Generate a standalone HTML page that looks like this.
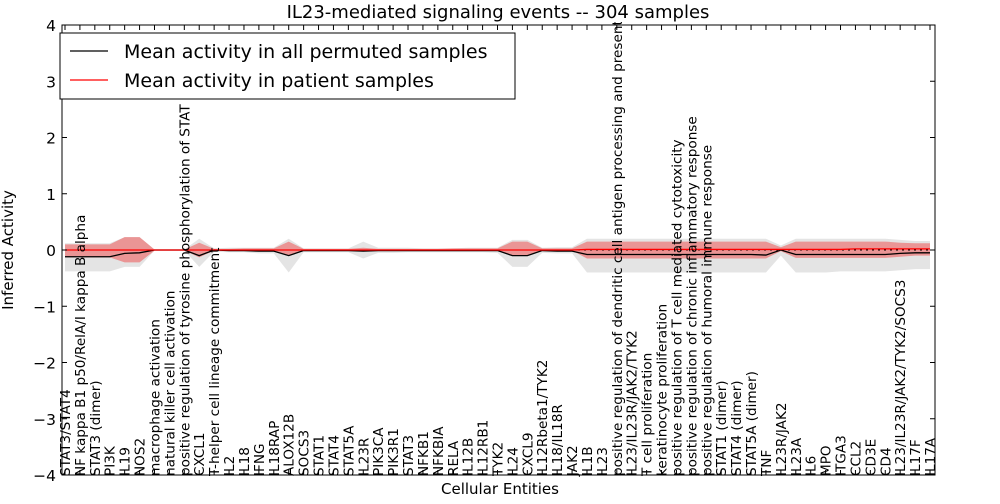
<!DOCTYPE html>
<html><head><meta charset="utf-8"><style>
body{margin:0;background:#fff;width:1000px;height:500px;overflow:hidden;font-family:"DejaVu Sans","Liberation Sans",sans-serif}
</style></head><body>
<svg id="chart" width="1000" height="500" xmlns="http://www.w3.org/2000/svg" font-family="DejaVu Sans, Liberation Sans, sans-serif"></svg>
<script>
const categories=["STAT3/STAT4","NF kappa B1 p50/RelA/I kappa B alpha","STAT3 (dimer)","PI3K","IL19","NOS2","macrophage activation","natural killer cell activation","positive regulation of tyrosine phosphorylation of STAT","CXCL1","T-helper cell lineage commitment","IL2","IL18","IFNG","IL18RAP","ALOX12B","SOCS3","STAT1","STAT4","STAT5A","IL23R","PIK3CA","PIK3R1","STAT3","NFKB1","NFKBIA","RELA","IL12B","IL12RB1","TYK2","IL24","CXCL9","IL12Rbeta1/TYK2","IL18/IL18R","JAK2","IL1B","IL23","positive regulation of dendritic cell antigen processing and presentation","IL23/IL23R/JAK2/TYK2","T cell proliferation","keratinocyte proliferation","positive regulation of T cell mediated cytotoxicity","positive regulation of chronic inflammatory response","positive regulation of humoral immune response","STAT1 (dimer)","STAT4 (dimer)","STAT5A (dimer)","TNF","IL23R/JAK2","IL23A","IL6","MPO","ITGA3","CCL2","CD3E","CD4","IL23/IL23R/JAK2/TYK2/SOCS3","IL17F","IL17A"];
const permMean=[-0.12,-0.12,-0.12,-0.12,-0.06,-0.05,0,0,0,-0.1,0,-0.01,-0.01,-0.02,-0.02,-0.1,-0.01,-0.01,-0.01,-0.01,-0.02,-0.01,-0.01,-0.01,-0.01,-0.01,-0.01,-0.01,-0.01,-0.01,-0.1,-0.1,-0.01,-0.02,-0.02,-0.08,-0.08,-0.08,-0.08,-0.08,-0.08,-0.08,-0.08,-0.08,-0.08,-0.08,-0.08,-0.09,0,-0.08,-0.08,-0.08,-0.08,-0.08,-0.08,-0.08,-0.06,-0.05,-0.05];
const permLo=[-0.38,-0.38,-0.38,-0.38,-0.3,-0.3,-0.01,-0.01,-0.01,-0.3,-0.03,-0.04,-0.04,-0.06,-0.06,-0.4,-0.04,-0.04,-0.04,-0.04,-0.15,-0.05,-0.05,-0.04,-0.04,-0.04,-0.04,-0.04,-0.04,-0.05,-0.3,-0.3,-0.05,-0.06,-0.06,-0.4,-0.4,-0.4,-0.4,-0.4,-0.4,-0.4,-0.4,-0.4,-0.4,-0.4,-0.4,-0.4,-0.1,-0.4,-0.4,-0.4,-0.38,-0.38,-0.38,-0.38,-0.36,-0.34,-0.34];
const permHi=[0.12,0.12,0.12,0.12,0.23,0.23,0.01,0.01,0.01,0.2,0.03,0.04,0.04,0.04,0.04,0.2,0.03,0.03,0.03,0.03,0.15,0.04,0.04,0.04,0.03,0.03,0.03,0.04,0.04,0.04,0.18,0.18,0.04,0.05,0.05,0.2,0.2,0.2,0.2,0.2,0.2,0.2,0.2,0.2,0.2,0.2,0.2,0.2,0.08,0.2,0.2,0.2,0.2,0.2,0.2,0.2,0.18,0.16,0.16];
const patMean=[0,0,0,0,0,0,0,0,0,0,0,0,0,0,0,0,0,0,0,0,0,0,0,0,0,0,0,0,0,0,0,0,0,0,0,0.01,0.01,0.01,0.01,0.01,0.01,0.01,0.01,0.01,0.01,0.01,0.01,0.01,0.01,0.01,0.01,0.01,0.01,0.02,0.02,0.02,0.02,0.02,0.02];
const patLo=[-0.13,-0.13,-0.13,-0.13,-0.22,-0.22,-0.01,-0.01,-0.01,-0.13,-0.01,-0.01,-0.01,-0.02,-0.02,-0.1,-0.01,-0.01,-0.01,-0.01,-0.02,-0.01,-0.01,-0.01,-0.01,-0.01,-0.01,-0.01,-0.01,-0.01,-0.1,-0.1,-0.01,-0.01,-0.01,-0.15,-0.15,-0.15,-0.15,-0.15,-0.15,-0.15,-0.15,-0.15,-0.15,-0.15,-0.15,-0.15,-0.02,-0.14,-0.14,-0.14,-0.14,-0.14,-0.14,-0.14,-0.12,-0.1,-0.1];
const patHi=[0.1,0.1,0.1,0.1,0.23,0.23,0.01,0.01,0.01,0.13,0.02,0.02,0.03,0.03,0.03,0.15,0.02,0.02,0.02,0.02,0.04,0.02,0.02,0.02,0.02,0.02,0.03,0.03,0.03,0.03,0.15,0.15,0.03,0.03,0.03,0.15,0.15,0.15,0.15,0.15,0.15,0.15,0.15,0.15,0.15,0.15,0.15,0.15,0.05,0.15,0.15,0.15,0.15,0.15,0.15,0.15,0.13,0.12,0.12];
const yTicks=[-4,-3,-2,-1,0,1,2,3,4];

const svg=document.getElementById('chart');const NS='http://www.w3.org/2000/svg';
const L=62,R=935,T=25,B=475;
const xs=i=>65+i*(930-65)/(categories.length-1);
const ys=v=>250-v*(B-T)/8;
function mk(t,a,p){const e=document.createElementNS(NS,t);for(const k in a)e.setAttribute(k,a[k]);(p||svg).appendChild(e);return e;}
function band(lo,hi,fill,name){let d='M'+lo.map((v,i)=>xs(i)+','+ys(v)).join('L');for(let i=hi.length-1;i>=0;i--)d+='L'+xs(i)+','+ys(hi[i]);const e=mk('path',{d:d+'Z',fill:fill,stroke:'none'});

}
function line(vals,col,name){const e=mk('path',{d:'M'+vals.map((v,i)=>xs(i)+','+ys(v)).join('L'),fill:'none',stroke:col,'stroke-width':1.3});

}
band(permLo,permHi,'rgba(195,195,195,0.45)','permuted-band');
band(patLo,patHi,'rgba(240,70,70,0.5)','patient-band');
const z=mk('line',{x1:L,x2:R,y1:ys(0),y2:ys(0),stroke:'#000','stroke-dasharray':'2,4','stroke-width':1});


line(permMean,'#000','permuted-mean-line');
line(patMean,'#f00','patient-mean-line');
const defs=mk('defs',{});const cp=mk('clipPath',{id:'lblclip'},defs);mk('rect',{x:0,y:22,width:1000,height:478},cp);
const lblG=mk('g',{'clip-path':'url(#lblclip)'});
categories.forEach((c,i)=>{const x=xs(i);
mk('line',{x1:x,x2:x,y1:B,y2:B-5,stroke:'#000'});mk('line',{x1:x,x2:x,y1:T,y2:T+5,stroke:'#000'});
const t=mk('text',{x:0,y:0,transform:`translate(${x+5},476) rotate(-90)`,'font-size':13.6},lblG);t.textContent=c;

});
const fr=mk('rect',{x:L,y:T,width:R-L,height:B-T,fill:'none',stroke:'#000','stroke-width':1});


yTicks.forEach(v=>{const y=ys(v);
mk('line',{x1:L,x2:L+5,y1:y,y2:y,stroke:'#000'});mk('line',{x1:R-5,x2:R,y1:y,y2:y,stroke:'#000'});
const t=mk('text',{x:L-6,y:y+6,'text-anchor':'end','font-size':15.5});t.textContent=(v<0?'\u2212':'')+Math.abs(v);

});
let t=mk('text',{x:498,y:18,'text-anchor':'middle','font-size':18});t.textContent='IL23-mediated signaling events -- 304 samples';


t=mk('text',{x:500,y:494,'text-anchor':'middle','font-size':15});t.textContent='Cellular Entities';


t=mk('text',{x:0,y:0,transform:'translate(13,250) rotate(-90)','text-anchor':'middle','font-size':15});t.textContent='Inferred Activity';


const lg=mk('g',{});


mk('rect',{x:60,y:33,width:455,height:66,fill:'#fff',stroke:'#000'},lg);
mk('line',{x1:70,x2:108,y1:51,y2:51,stroke:'#000','stroke-width':1.3},lg);
mk('line',{x1:70,x2:108,y1:80,y2:80,stroke:'#f00','stroke-width':1.3},lg);
t=mk('text',{x:124,y:58,'font-size':19},lg);t.textContent='Mean activity in all permuted samples';


t=mk('text',{x:124,y:87,'font-size':19},lg);t.textContent='Mean activity in patient samples';


</script>
</body></html>
